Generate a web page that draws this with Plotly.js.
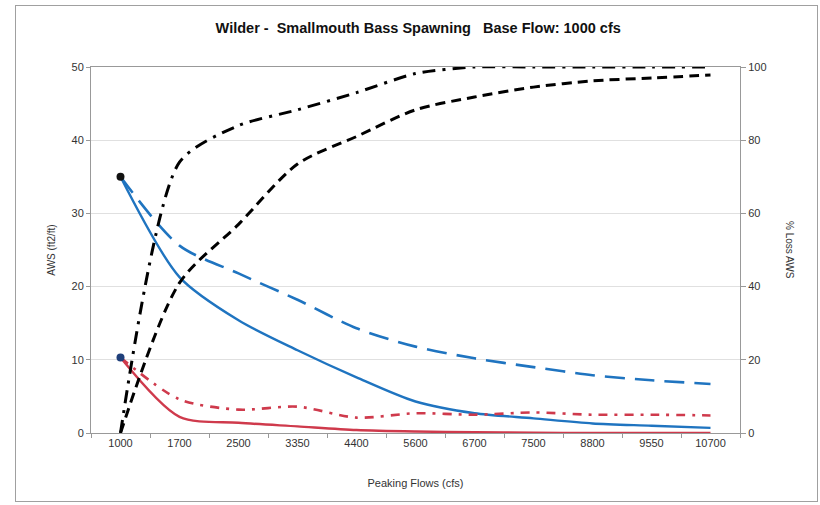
<!DOCTYPE html>
<html><head><meta charset="utf-8">
<script src="https://cdn.plot.ly/plotly-3.0.1.min.js"></script>
<style>
body{margin:0;background:#fff}
#wrap{position:relative;width:820px;height:505px}
#chart{width:820px;height:505px}
#frame{position:absolute;left:15px;top:5px;width:803px;height:497px;border:1px solid #a0a0a0;pointer-events:none;box-sizing:border-box}
</style>
</head><body><div id="wrap"><div id="chart"></div><div id="frame"></div></div>
<script>
const flows = ['1000','1700','2500','3350','4400','5600','6700','7500','8800','9550','10700'];
const awsBlueSolid   = [35, 21.3, 15.4, 11.3, 7.6, 4.3, 2.7, 2.0, 1.3, 1.0, 0.7];
const awsBlueDashed  = [35, 25.6, 21.8, 18.2, 14.3, 11.8, 10.2, 9.0, 7.9, 7.2, 6.7];
const awsRedSolid    = [10.3, 2.2, 1.4, 0.9, 0.4, 0.2, 0.1, 0.05, 0, 0, 0];
const awsRedDashDot  = [10.3, 4.6, 3.2, 3.6, 2.1, 2.7, 2.5, 2.8, 2.5, 2.5, 2.4];
const lossBlackDashDot = [0, 74, 84, 88.3, 93, 98.2, 100, 100, 100, 100, 100];
const lossBlackDashed  = [0, 41, 57, 73.5, 81, 88.3, 91.8, 94.5, 96.2, 97, 97.8];

const blue = '#1f74c0', red = '#cf3a4c';
const traces = [
  {x: flows, y: awsBlueDashed, mode:'lines', line:{color:blue, width:2.6, dash:'20px,10px', shape:'spline', smoothing:0.8}},
  {x: flows, y: awsBlueSolid, mode:'lines', line:{color:blue, width:2.4, shape:'spline', smoothing:0.8}},
  {x: flows, y: awsRedDashDot, mode:'lines', line:{color:red, width:2.6, dash:'9px,7px,3px,7px', shape:'spline', smoothing:0.8}},
  {x: flows, y: awsRedSolid, mode:'lines', line:{color:red, width:2.4, shape:'spline', smoothing:0.8}},
  {x: [flows[0], flows[0]], y: [awsBlueSolid[0], awsRedSolid[0]], mode:'markers', marker:{color:['#111','#1f3f7a'], size:8}},
  {x: flows, y: lossBlackDashDot, yaxis:'y2', mode:'lines', line:{color:'#000', width:3, dash:'13px,7px,3px,7px', shape:'spline', smoothing:0.7}},
  {x: flows, y: lossBlackDashed, yaxis:'y2', mode:'lines', line:{color:'#000', width:3, dash:'10px,6px', shape:'spline', smoothing:0.8}}
];
const tf = {family:'Liberation Sans, Arial, sans-serif', size:11, color:'#333'};
const layout = {
  width:820, height:505,
  margin:{l:91, r:80, t:67, b:72},
  paper_bgcolor:'#fff', plot_bgcolor:'#fff',
  showlegend:false,
  title:{text:'<b>Wilder -  Smallmouth Bass Spawning   Base Flow: 1000 cfs</b>', x:0.51, xanchor:'center', y:0.945, yanchor:'middle', font:{family:'Liberation Sans, Arial, sans-serif', size:14.5, color:'#111'}},
  xaxis:{type:'category', range:[-0.5,10.5], showgrid:false, showline:true, linecolor:'#999', linewidth:1, mirror:true,
         ticks:'outside', tickson:'boundaries', ticklen:4, tickcolor:'#999', tickfont:tf, zeroline:false,
         title:{text:'Peaking Flows (cfs)', font:{family:'Liberation Sans, Arial, sans-serif', size:11, color:'#333'}, standoff:31}},
  yaxis:{range:[0,50], dtick:10, showgrid:true, gridcolor:'#e0e0e0', gridwidth:1, showline:true, linecolor:'#999',
         ticks:'outside', ticklen:4, tickcolor:'#999', tickfont:tf, zeroline:false,
         title:{text:'AWS (ft2/ft)', font:{family:'Liberation Sans, Arial, sans-serif', size:10, color:'#333'}, standoff:14}},
  yaxis2:{range:[0,100], dtick:20, overlaying:'y', side:'right', showgrid:false, showline:true, linecolor:'#999',
          ticks:'outside', ticklen:5, tickcolor:'#999', tickfont:tf, zeroline:false},
  annotations:[{text:'% Loss AWS', xref:'paper', yref:'paper', x:1.077, y:0.5, xanchor:'center', yanchor:'middle', showarrow:false, textangle:90,
                font:{family:'Liberation Sans, Arial, sans-serif', size:10, color:'#333'}}]
};
Plotly.newPlot('chart', traces, layout, {displayModeBar:false, staticPlot:true});
</script>
</body></html>
